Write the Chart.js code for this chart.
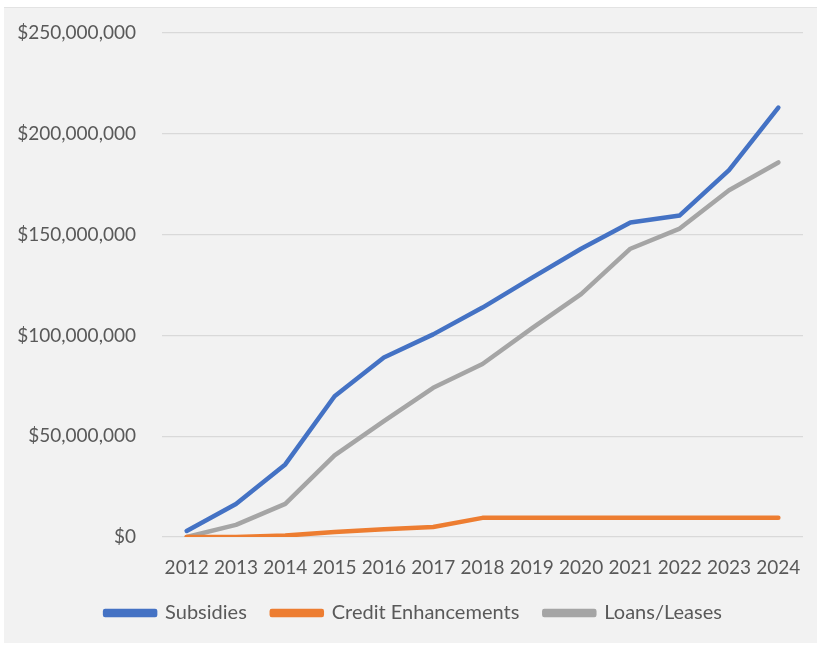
<!DOCTYPE html>
<html>
<head>
<meta charset="utf-8">
<script src="https://cdn.jsdelivr.net/npm/chart.js@4.4.1/dist/chart.umd.min.js"></script>
<style>
  html, body { margin: 0; padding: 0; background: #ffffff; }
  #frame {
    position: absolute;
    left: 4px;
    top: 7px;
    width: 813px;
    height: 636px;
    background: #f2f2f2;
    border-top: 1px solid #e3e3e3;
    box-sizing: border-box;
  }
</style>
</head>
<body>
<div id="frame"><canvas id="funding-chart"></canvas></div>
<script>
// Cumulative funding by program type, 2012-2024
const years = ["2012", "2013", "2014", "2015", "2016", "2017", "2018",
  "2019", "2020", "2021", "2022", "2023", "2024"];
const subsidies = [3000000, 16400000, 36000000, 69800000, 89000000, 100500000,
  113800000, 128500000, 143000000, 156000000, 159500000, 182000000, 213000000];
const creditEnhancements = [0, 0, 700000, 2500000, 3800000, 5000000, 9500000,
  9500000, 9500000, 9500000, 9500000, 9500000, 9500000];
const loansLeases = [0, 6000000, 16400000, 40500000, 57500000, 74000000,
  85800000, 103500000, 120500000, 143000000, 153000000, 172000000, 185800000];

const FONT = "Lato, 'Noto Sans', sans-serif";
const TEXT = "#595959";

function money(v) {
  return "$" + v.toLocaleString("en-US");
}

function series(label, values, color) {
  return {
    label: label,
    data: values,
    borderColor: color,
    backgroundColor: color,
    borderWidth: 4.5,
    borderCapStyle: "round",
    borderJoinStyle: "round",
    pointRadius: 0,
    pointHoverRadius: 0,
    tension: 0,
  };
}

// nudge the legend a little right and up after layout
const legendNudge = {
  id: "legendNudge",
  afterLayout(chart) {
    const lg = chart.legend;
    lg.left += 10;
    lg.right += 10;
    lg.top -= 3;
    lg.bottom -= 3;
  },
};

document.addEventListener("DOMContentLoaded", function () {
  const canvas = document.getElementById("funding-chart");
  canvas.width = 813;
  canvas.height = 635;

  new Chart(canvas, {
    type: "line",
    data: {
      labels: years,
      datasets: [
        series("Subsidies", subsidies, "#4472C4"),
        series("Credit Enhancements", creditEnhancements, "#ED7D31"),
        series("Loans/Leases", loansLeases, "#A5A5A5"),
      ],
    },
    options: {
      responsive: false,
      animation: false,
      layout: { padding: { top: 25, right: 14, bottom: 7, left: 0 } },
      plugins: {
        legend: {
          position: "bottom",
          labels: {
            color: TEXT,
            font: { family: FONT, size: 20 },
            boxWidth: 50,
            boxHeight: 4,
            padding: 25,
          },
        },
        tooltip: { enabled: false },
      },
      scales: {
        x: {
          offset: true,
          grid: { display: false },
          border: { display: false },
          ticks: {
            color: TEXT,
            font: { family: FONT, size: 19 },
            padding: 11,
            maxRotation: 0,
            autoSkip: false,
          },
          afterFit(scale) {
            scale.height = 44;
          },
        },
        y: {
          min: 0,
          max: 250000000,
          // invisible tick marks keep the labels clear of the plot
          grid: {
            color: "#d9d9d9",
            lineWidth: 1.3,
            drawTicks: true,
            tickLength: 26,
            tickColor: "rgba(0,0,0,0)",
          },
          border: { display: false },
          ticks: {
            stepSize: 50000000,
            color: TEXT,
            font: { family: FONT, size: 19 },
            padding: 0,
            callback: (v) => money(v),
          },
          afterFit(scale) {
            scale.width = 158;
          },
        },
      },
    },
    plugins: [legendNudge],
  });
});
</script>
</body>
</html>
